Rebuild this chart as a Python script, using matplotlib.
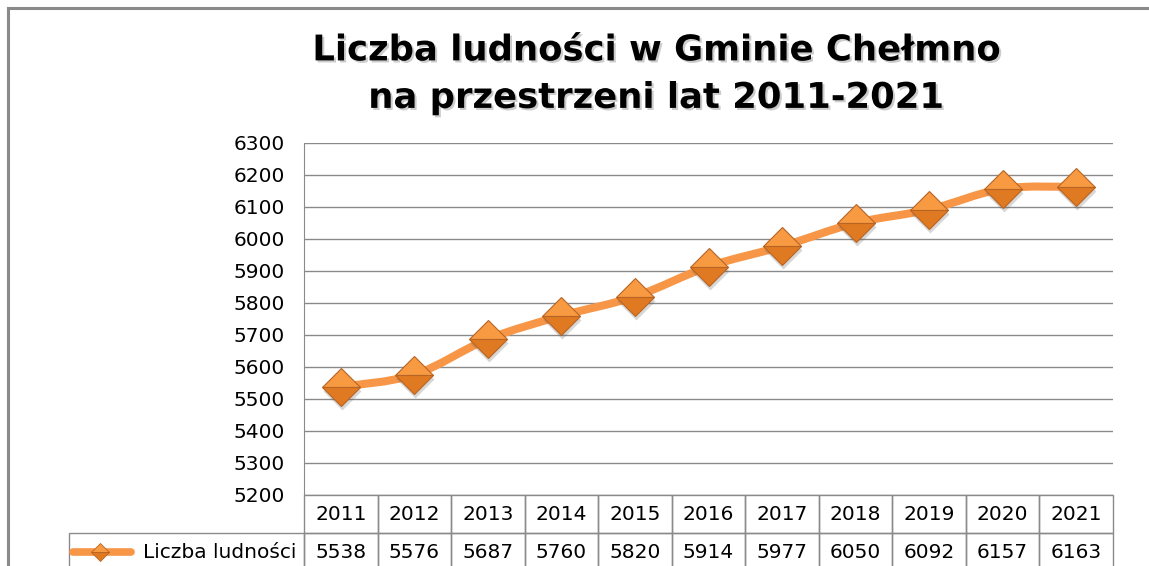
import numpy as np
import matplotlib
matplotlib.use("Agg")
import matplotlib.pyplot as plt
import matplotlib.patheffects as pe
from matplotlib.path import Path
from matplotlib.patches import PathPatch, Rectangle
from matplotlib.lines import Line2D
from matplotlib import transforms

years = [2011, 2012, 2013, 2014, 2015, 2016, 2017, 2018, 2019, 2020, 2021]
ludnosc = [5538, 5576, 5687, 5760, 5820, 5914, 5977, 6050, 6092, 6157, 6163]
yticks = [5200, 5300, 5400, 5500, 5600, 5700, 5800, 5900, 6000, 6100, 6200, 6300]
tytul = "Liczba ludności w Gminie Chełmno\nna przestrzeni lat 2011-2021"
seria = "Liczba ludności"

plt.rcParams['font.family'] = 'DejaVu Sans'
POMARANCZ = "#F79646"
SZARY = "#8A8A8A"
FS = 14.5

fig = plt.figure(figsize=(11.49, 5.66), dpi=100)
ax = fig.add_axes([304 / 1149, 71 / 566, 809 / 1149, 352 / 566])

x = np.arange(len(years))
y = np.array(ludnosc, dtype=float)

# wygladzona linia jak w Excelu (krzywe Beziera przez punkty)
pts = np.column_stack([x, y])
ext = np.vstack([pts[0], pts, pts[-1]])
verts = [pts[0]]
codes = [Path.MOVETO]
for i in range(len(pts) - 1):
    p0, p1, p2, p3 = ext[i], ext[i + 1], ext[i + 2], ext[i + 3]
    c1 = p1 + (p2 - p0) / 6.0
    c2 = p2 - (p3 - p1) / 6.0
    verts += [c1, c2, p2]
    codes += [Path.CURVE4] * 3
ax.add_patch(PathPatch(Path(verts, codes), facecolor="none", edgecolor=POMARANCZ,
                       lw=5.8, capstyle="round", joinstyle="round", zorder=3))

# cien pod znacznikami
cien = transforms.offset_copy(ax.transData, fig=fig, x=1, y=-4, units="dots")
ax.plot(x, y, ls="none", marker="D", ms=19, color="#606060", alpha=0.25,
        mec="none", transform=cien, zorder=4)
ax.plot(x, y, ls="none", marker="D", ms=19, fillstyle="top",
        markerfacecolor="#F89A42", markerfacecoloralt="#E07A22",
        markeredgecolor="#B86424", markeredgewidth=0.8, zorder=5)

ax.set_xlim(-0.5, len(years) - 0.5)
ax.set_ylim(yticks[0], yticks[-1])
ax.set_yticks(yticks)
ax.set_yticklabels([str(t) for t in yticks], fontsize=FS)
ax.set_xticks([])
ax.tick_params(axis="y", length=0, pad=14)
ax.grid(axis="y", color=SZARY, lw=1)
ax.set_axisbelow(True)
for s in ["top", "right", "bottom"]:
    ax.spines[s].set_visible(False)
ax.spines["left"].set_color(SZARY)

# tabela danych pod wykresem
blend = transforms.blended_transform_factory(ax.transData, ax.transAxes)
h = 38 / 352
for i, (rok, v) in enumerate(zip(years, ludnosc)):
    ax.add_patch(Rectangle((i - 0.5, -h), 1, h, transform=blend, fill=False,
                           edgecolor=SZARY, lw=1, clip_on=False))
    ax.add_patch(Rectangle((i - 0.5, -2 * h), 1, h, transform=blend, fill=False,
                           edgecolor=SZARY, lw=1, clip_on=False))
    ax.text(i, -h / 2, str(rok), transform=blend, ha="center", va="center",
            fontsize=FS, clip_on=False)
    ax.text(i, -1.5 * h, str(v), transform=blend, ha="center", va="center",
            fontsize=FS, clip_on=False)

# komorka legendy
lx0 = (69 - 304) / 809
ax.add_patch(Rectangle((lx0, -2 * h), -lx0, h, transform=ax.transAxes, fill=False,
                       edgecolor=SZARY, lw=1, clip_on=False))
ax.add_line(Line2D([(73 - 304) / 809, (131 - 304) / 809], [-1.5 * h, -1.5 * h],
                   transform=ax.transAxes, color=POMARANCZ, lw=5.5,
                   solid_capstyle="round", clip_on=False))
ax.add_line(Line2D([(100 - 304) / 809], [-1.5 * h], transform=ax.transAxes,
                   marker="D", ms=9, fillstyle="top", markerfacecolor="#F89A42",
                   markerfacecoloralt="#E07A22", markeredgecolor="#B86424",
                   markeredgewidth=0.6, clip_on=False))
ax.text(-8 / 809, -1.5 * h, seria, transform=ax.transAxes, ha="right",
        va="center", fontsize=FS, clip_on=False)

# tytul
fig.text(0.571, 0.869, tytul, ha="center", va="center", fontsize=25.5,
         fontweight="bold", linespacing=1.5,
         path_effects=[pe.withSimplePatchShadow(offset=(1.5, -1.5), alpha=0.2)])

# ramka wykresu
fig.add_artist(Line2D([8 / 1149, 8 / 1149], [0, 1 - 7.5 / 566], color=SZARY, lw=2.2))
fig.add_artist(Line2D([8 / 1149, 1], [1 - 7.5 / 566, 1 - 7.5 / 566], color=SZARY, lw=2.2))

fig.savefig("out.png", dpi=100)
